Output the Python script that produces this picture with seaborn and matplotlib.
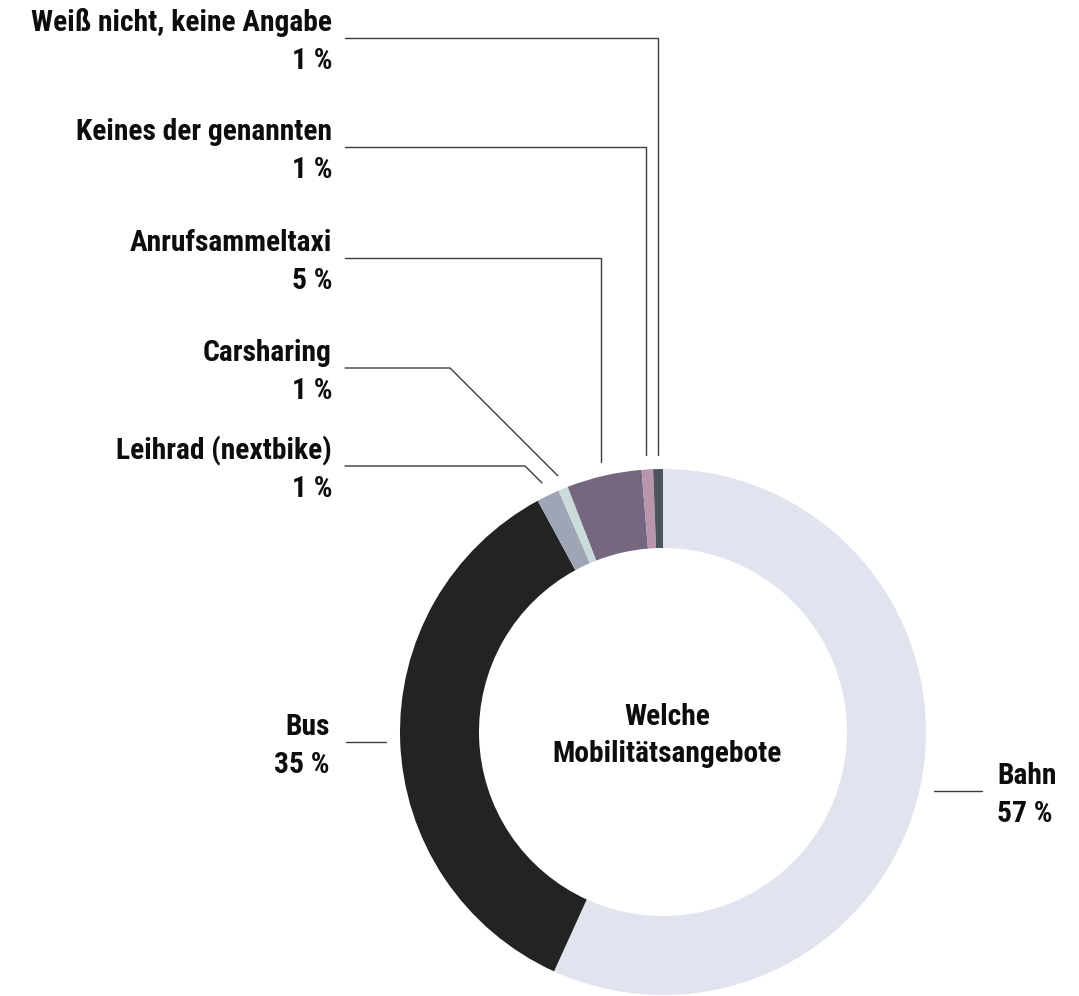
import numpy as np
import matplotlib
matplotlib.use("Agg")
import matplotlib.pyplot as plt
import seaborn as sns

# ---- data ----
categories = ["Bahn", "Bus", "Leihrad (nextbike)", "Carsharing", "Anrufsammeltaxi",
              "Keines der genannten", "Weiß nicht, keine Angabe"]
shares = [56.8, 35.3, 1.4, 0.6, 4.6, 0.7, 0.6]
pct_labels = ["57 %", "35 %", "1 %", "1 %", "5 %", "1 %", "1 %"]
colors = ["#e1e3ee", "#222423", "#9ea5b5", "#c9dcd9", "#75677f", "#b895ad", "#4d555d"]
center_title = ["Welche", "Mobilitätsangebote"]

# ---- style ----
sns.set_theme(style="white")
plt.rcParams['font.family'] = ['Roboto Condensed', 'Archivo Narrow', 'Barlow Condensed',
                               'Asap Condensed', 'DejaVu Sans']

W, H = 1079, 996
fig = plt.figure(figsize=(W / 100, H / 100), dpi=100)
ax = fig.add_axes([0, 0, 1, 1])

def py(y):
    return H - y

cx, cy = 663, 732
R, ring = 263, 79
r_end = 277

ax.pie(shares, colors=colors, startangle=90, counterclock=False,
       center=(cx, py(cy)), radius=R, frame=True,
       wedgeprops=dict(width=ring, linewidth=0))
ax.set_xlim(0, W)
ax.set_ylim(0, H)
ax.axis("off")

fw = "heavy"
# auto-size font so the longest label approaches the reference width (~307 px)
renderer = fig.canvas.get_renderer()
probe = ax.text(0, 0, categories[6], fontsize=20, fontweight=fw)
wpx = probe.get_window_extent(renderer).width
probe.remove()
fs = min(20 * 300.0 / wpx, 21.5)

# mid-angles (clockwise from top, degrees)
cum = np.cumsum([0] + shares[:-1])
total = sum(shares)
mids = [(c + s / 2) / total * 360 for c, s in zip(cum, shares)]

def anchor(i):
    phi = np.deg2rad(mids[i])
    return cx + r_end * np.sin(phi), cy - r_end * np.cos(phi)

tc = "#0d0d0d"
lc = "#3c3c3c"
lw = 1.0

def two_lines(x, line_y, name, pct, ha):
    ax.text(x, py(line_y - 7), name, ha=ha, va="baseline", fontsize=fs,
            fontweight=fw, color=tc)
    ax.text(x, py(line_y + 31), pct, ha=ha, va="baseline", fontsize=fs,
            fontweight=fw, color=tc)

label_right = 332
line_left = 345

# small slices with vertical leaders
vertical = {6: 38, 5: 147, 4: 258}
for i, ly in vertical.items():
    ax_, ay_ = anchor(i)
    ax.plot([line_left, ax_, ax_], [py(ly), py(ly), py(ay_)], color=lc, lw=lw,
            solid_joinstyle="miter")
    two_lines(label_right, ly, categories[i], pct_labels[i], "right")

# small slices with diagonal leaders (45°)
diagonal = {3: 368, 2: 466}
for i, ly in diagonal.items():
    ax_, ay_ = anchor(i)
    ex = ax_ - (ay_ - ly)
    ax.plot([line_left, ex, ax_], [py(ly), py(ly), py(ay_)], color=lc, lw=lw,
            solid_joinstyle="miter")
    two_lines(label_right, ly, categories[i], pct_labels[i], "right")

# Bus (left)
bx, by = anchor(1)
ax.plot([bx - 40, bx], [py(by), py(by)], color=lc, lw=lw)
two_lines(330, by, categories[1], pct_labels[1], "right")

# Bahn (right)
hx, hy = anchor(0)
ax.plot([hx, hx + 48], [py(hy), py(hy)], color=lc, lw=lw)
two_lines(997, hy, categories[0], pct_labels[0], "left")

# center title
ax.text(667, py(725), center_title[0], ha="center", va="baseline", fontsize=fs,
        fontweight=fw, color=tc)
ax.text(667, py(762), center_title[1], ha="center", va="baseline", fontsize=fs,
        fontweight=fw, color=tc)

fig.savefig("out.png", dpi=100, facecolor="white")
